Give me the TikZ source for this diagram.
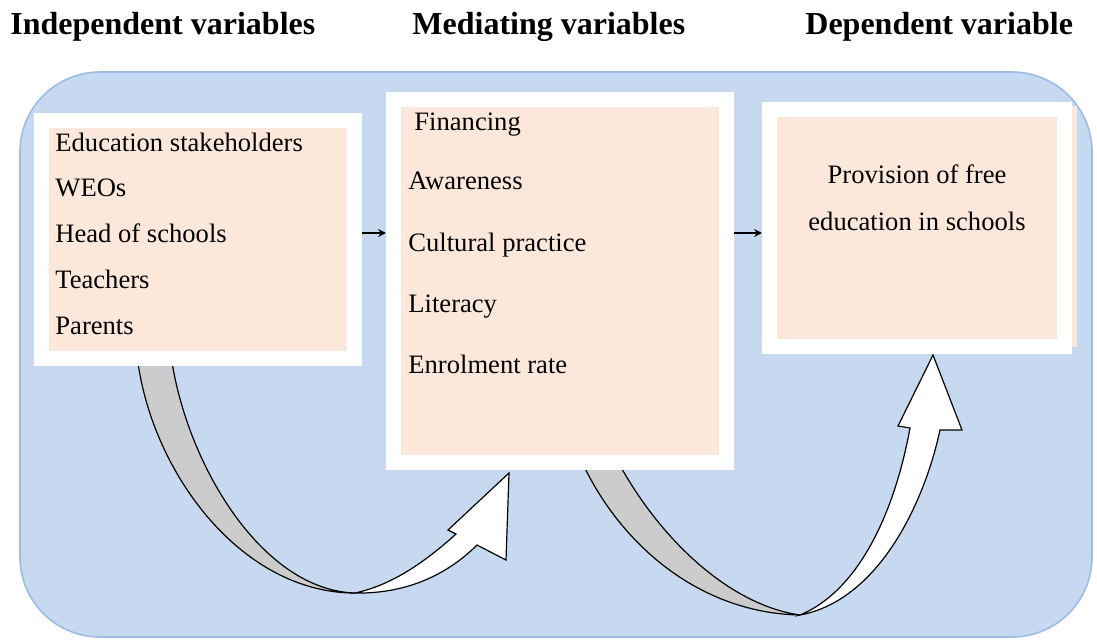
\documentclass[tikz,border=0pt]{standalone}
\usepackage{fontspec}
\setmainfont{Liberation Serif}
\usetikzlibrary{arrows.meta}
\definecolor{bgblue}{HTML}{C6D9F0}
\definecolor{bgline}{HTML}{9DBBE3}
\definecolor{peach}{HTML}{FCE8DA}
\definecolor{ribbon}{HTML}{CCCCCC}
\newcommand{\itemfont}{\fontsize{13.3}{16}\selectfont}
\newcommand{\headfont}{\fontsize{16}{19}\selectfont\bfseries}

\begin{document}
\begin{tikzpicture}[x=0.5pt,y=-0.5pt,
  head/.style={anchor=base west,inner sep=0pt,font=\headfont},
  item/.style={anchor=base west,inner sep=0pt,font=\itemfont},
  varbox/.style={fill=peach,draw=white,line width=7.5pt,inner sep=0pt},
  link/.style={-{Stealth[length=4pt,width=4pt]},line width=0.7pt},
  band/.style={fill=ribbon,draw=black,line width=0.6pt},
  front/.style={fill=white,draw=black,line width=0.6pt}]
  \useasboundingbox (0,0) rectangle (1097,639);
  \node[head] (hindep) at (10,34) {Independent variables};
  \node[head] (hmedi) at (412,34) {Mediating variables};
  \node[head] (hdepd) at (805,34) {Dependent variable};
  \filldraw[fill=bgblue,draw=bgline,line width=0.8pt,rounded corners=40pt] (20,72) rectangle (1092,637);
  \draw[band] (137,355) .. controls (150,470) and (240,593) .. (355,593)
    .. controls (260,590) and (185,460) .. (171,355);
  \draw[band] (581,460) .. controls (620,545) and (700,613) .. (800,615)
    .. controls (730,605) and (660,540) .. (617,460);
  \fill[peach] (1066,106) rectangle (1077,347);
  \node[varbox,minimum width=156.5pt,minimum height=119pt] (indep) at (198,239.5) {};
  \node[varbox,minimum width=166.5pt,minimum height=181.5pt] (medi) at (560,281) {};
  \node[varbox,minimum width=147.5pt,minimum height=118.5pt] (depd) at (917,228) {};
  \foreach \t [count=\i] in {Education stakeholders,WEOs,Head of schools,Teachers,Parents}
    \node[item] (in\i) at (55,{151+45.75*(\i-1)}) {\t};
  \node[item] (md1) at (414,130) {Financing};
  \node[item] (md2) at (408,189) {Awareness};
  \node[item] (md3) at (408,251) {Cultural practice};
  \node[item] (md4) at (408,312) {Literacy};
  \node[item] (md5) at (408,373) {Enrolment rate};
  \node[item,anchor=base] (dp1) at (917,183) {Provision of free};
  \node[item,anchor=base] (dp2) at (917,230) {education in schools};
  \coordinate (lvl) at (0,233);
  \draw[link] (indep.east |- lvl) -- (medi.west |- lvl);
  \draw[link] (medi.east |- lvl) -- (depd.west |- lvl);
  \filldraw[front] (355,593) .. controls (410,594) and (450,572) .. (477,545)
    -- (506,560) -- (509,473) -- (448,530) -- (456,534)
    .. controls (425,562) and (392,585) .. (355,593) -- cycle;
  \filldraw[front] (800,615) .. controls (880,600) and (925,500) .. (940,430)
    -- (962,430) -- (933,355) -- (898,426) -- (910,428)
    .. controls (895,510) and (860,590) .. (800,615) -- cycle;
\end{tikzpicture}
\end{document}
